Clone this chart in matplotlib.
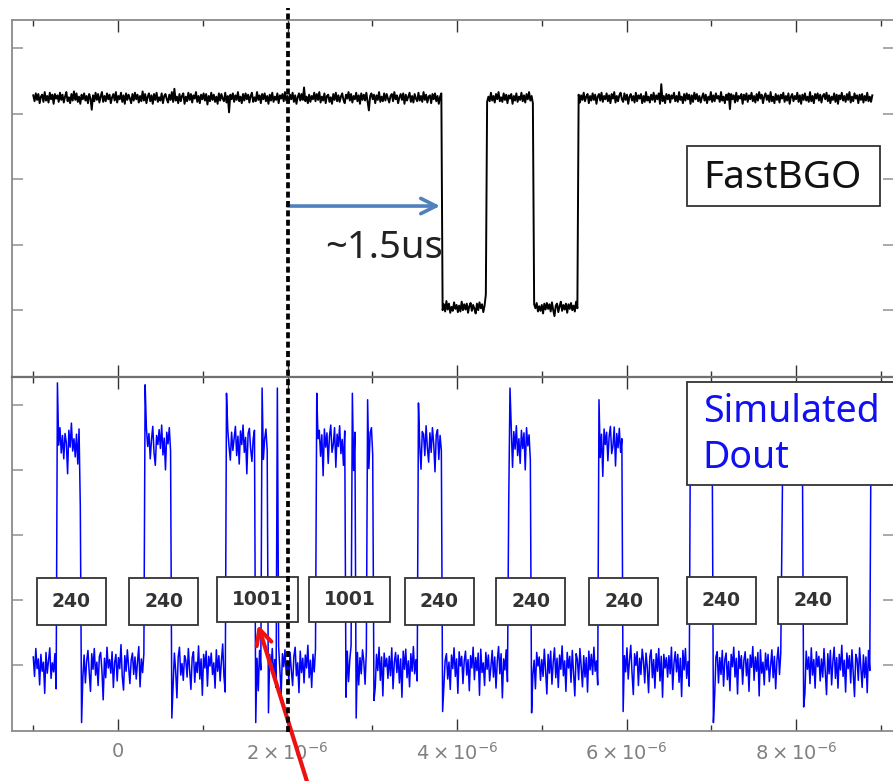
import numpy as np
import matplotlib
matplotlib.use("Agg")
import matplotlib.pyplot as plt
from matplotlib.patches import Rectangle
from matplotlib.lines import Line2D
from matplotlib import transforms

# ---------------- data ----------------
t0_us = -1.00          # first sample time (microseconds)
dt_us = 0.015          # sample spacing (microseconds)

# FastBGO trace: level changes and levels
bgo_step_us = [3.828, 4.342, 4.898, 5.422]
bgo_levels = [3.24, 0.04, 3.24, 0.04, 3.24]
bgo_noise = [  # hundredths, one per sample
    4, -5, 7, -3, 6, -8, 2, 5, -6, 9, -4, 3, -7, 8, -2, 5, -9, 6, -1, 4,
    -6, 8, -3, 5, -7, 2, 9, -5, 1, -8, 6, -4, 10, -3, 7, -6, 2, -9, 5, -2,
    7, -4, 3, -8, 6, -1, -18, 4, -5, 8, -3, 6, -7, 2, 9, -6, 3, -5, 7, -2,
    5, -8, 1, 6, -4, 9, -7, 3, -2, 8, -6, 4, -9, 7, -3, 5, -1, -8, 6, -4,
    8, -2, 5, -7, 3, -5, 10, -4, 6, -8, 2, 7, -5, 4, -9, 6, -3, 8, -6, 1,
    -4, 7, -8, 3, 6, -2, -7, 5, -3, 9, -6, 14, -4, 2, -8, 6, -5, 3, 7, -9,
    2, -5, 8, -3, 6, -7, 4, -1, 9, -6, 3, -8, 5, -2, 7, -4, 6, -10, 3, -5,
    8, -3, 5, -6, 2, -9, 7, -4, 6, -1, -5, 8, -7, 3, -22, 5, -2, 7, -6, 4,
    -3, 9, -5, 2, -8, 6, -4, 7, -2, 5, -7, 3, 8, -6, 1, -5, 9, -3, 4, -8,
    6, -2, 7, -5, 3, -9, 5, -4, 8, -6, 2, -3, 7, -8, 4, -1, 6, -5, 9, -4,
    3, -7, 5, -2, 8, -6, 4, -9, 1, 7, -4, 6, -3, 16, -5, 2, -8, 5, -6, 3,
    -2, 8, -5, 6, -3, 9, -7, 2, -4, 7, -8, 3, 5, -6, 1, -9, 6, -3, 8, -5,
    4, -6, 2, 7, -3, -8, 5, -1, 9, -4, 6, -7, 3, -2, 8, -5, 4, -9, 7, -3,
    5, -4, 8, -6, -19, 3, 7, -2, 5, -8, 4, -3, 9, -6, 2, -5, 7, -4, 6, -1,
    -7, 3, 6, -5, 9, -2, 4, -8, 1, 6, -3, 7, -9, 5, -4, 2, 8, -6, 3, -7,
    6, -1, -5, 8, -4, 3, -6, 9, -3, 5, -7, 2, 4, -8, 6, -2, 7, -5, 3, -9,
    2, 7, -4, 5, -6, 10, -3, 6, -8, 1, -5, 8, -2, 4, -7, 3, -6, 9, -4, 5,
    -3, 6, -8, 2, 7, -5, 4, -2, -9, 6, -4, 8, -1, 5, -7, 3, 20, -6, 2, -5,
    8, -4, 3, -7, 6, -2, 9, -5, 1, -6, 7, -3, 5, -8, 4, -1, 6, -9, 3, -4,
    7, -6, 2, -3, 8, -5, 4, -7, 6, -2, 9, -4, 3, -8, 5, -1, 7, -6, 2, -5,
    4, -9, 6, -3, 7, -2, 5, -6, 8, -4, -13, 3, 6, -7, 2, 9, -5, 4, -3, 6,
    -8, 5, -2, 7, -4, 3, -6, 9, -1, 5, -7, 4, -3, 8, -5, 2, 6, -8, 3, -4,
    7, -3, 5, -9, 2, 6, -4, 8, -6, 3, -2, 7, -5, 4, -8, 6, -1, 9, -7, 3,
    -5, 4, 8, -2, -6, 7, -3, 5, -9, 2, 6, -4, 3, -7, 8, -5, 4, -1, 6, -8,
    3, -6, 9, -4, 2, -7, 5, -3, 8, -6, 4, -2, 7, -9, 21, -5, 3, -8, 6, -2,
    5, -7, 4, -1, 8, -5, 3, -6, 9, -3, 2, -8, 6, -4, 7, -2, 5, -9, 4, -6,
    8, -2, 6, -5, 3, -7, 1, 7, -4, 5, -8, 2, -3, 9, -6, 4, -5, 7, -1, 3,
    -6, 9, -4, 2, -8, 5, -3, 7, -17, 6, -2, 4, -7, 8, -5, 3, -1, 6, -9, 5,
    -3, 7, -6, 4, -2, 8, -5, 3, -7, 6, -4, 9, -1, 5, -8, 2, 7, -3, 4, -6,
    9, -5, 2, -8, 6, -3, 4, -7, 5, -1, 8, -6, 3, -4, 7, -9, 2, 6, -5, 3,
    -2, 8, -6, 4, -9, 5, -3, 7, -4, 2, -6, 9, -5, 3, -8, 6, -1, 7, -4, 5,
    -7, 3, 6, -2, 8, -5, 4, -8, 2, -3, 7, -6, 5, -9, 4, -2, 8, -4, 3, -6,
    6, -3, 9, -7, 2, -5, 7, -1, 4, -8, 5, -3, 6, -7, 3, -4, 8, -5, 2, -6,
    4,
]

# Simulated Dout trace: high intervals, levels, transient samples, noise
dout_high_start_us = [-0.728, 0.322, 1.282, 1.692, 2.342, 2.752, 2.942,
                      3.542, 4.602, 5.672, 6.752, 7.822, 8.882]
dout_high_end_us = [-0.458, 0.632, 1.622, 1.772, 2.678, 2.808, 3.018,
                    3.828, 4.878, 5.958, 7.018, 8.082, 9.500]
dout_high = 3.43
dout_low = 0.0
dout_spike_us = [-0.715, -0.445, -0.43, 0.32, 0.64, 1.28, 1.63, 1.70, 1.78,
                 1.88, 2.345, 2.69, 2.765, 2.81, 2.945, 3.02, 3.545, 3.83,
                 4.61, 4.625, 4.88, 5.675, 5.96, 6.755, 7.02, 7.835, 7.85,
                 8.09]
dout_spike_val = [4.34, 2.42, -0.89, 4.31, -0.82, 4.18, -0.89, 4.26, -0.74,
                  4.26, 4.18, -0.50, 4.18, -0.82, 4.08, -0.55, 4.03, -0.72,
                  2.50, 4.26, -0.74, 4.08, -0.72, 4.10, -0.89, 2.20, 4.10,
                  -0.65]
dout_noise = [  # hundredths, one per sample
    12, -18, 25, -6, 9, -31, 16, -10, 4, -44, 19, -13, 7, 26, -21, 3, -11, 17, -37, 8,
    -5, 22, -17, 10, -26, 13, -1, -49, 18, -8, 29, -14, 5, -23, 12, -34, 20, -4, 9, -19,
    15, -28, 6, 22, -11, -41, 17, -7, 25, -16, 4, -32, 13, 19, -9, -54, 10, -20, 27, -5,
    8, -13, 20, -35, 3, 16, -25, 11, -6, 31, -18, -39, 14, -10, 23, -3, -29, 7, 18, -15,
    12, -22, 5, 28, -34, 9, -12, 17, -46, 21, -7, 13, -26, 4, 24, -17, -36, 10, -4, 19,
    -10, 26, -20, 6, -43, 15, -3, 22, -14, 8, -31, 18, -9, -51, 12, 27, -16, 2, -24, 14,
    7, -19, 25, -8, -38, 11, 20, -27, 4, -12, 29, -22, 9, -47, 16, -5, 21, -33, 13, -2,
    18, -15, 3, -36, 23, -10, 14, -25, 6, 32, -18, -42, 10, 19, -7, -28, 15, -13, 5, 24,
    -21, 9, -34, 17, -4, 26, -16, 7, -49, 13, 21, -11, -30, 5, 18, -23, 10, -40, 22, -8,
    14, -27, 4, 20, -13, -37, 16, -6, 25, -19, 8, -35, 12, 28, -10, -45, 17, -3, 23, -15,
    6, -24, 19, -9, -32, 13, 27, -17, 3, -43, 21, -12, 10, -28, 15, -5, 30, -20, 7, -35,
    16, -11, 24, -29, 5, 18, -22, 11, -52, 20, -8, 14, -33, 9, 26, -16, -4, 22, -39, 12,
    -7, 25, -18, 4, -36, 17, -13, 21, -26, 8, 29, -10, -44, 15, -2, 19, -31, 11, -14, 23,
    5, -30, 20, -6, -41, 14, 22, -19, 7, -35, 16, -9, 27, -24, 12, -48, 18, -3, 10, -21,
    13, -17, 26, -37, 4, 19, -12, 15, -28, 9, -50, 21, -7, 24, -20, 6, -34, 17, -10, 28,
    -14, 8, -25, 20, -5, -42, 16, 12, -21, 25, -9, -31, 14, -16, 22, -3, -46, 11, 19, -27,
    10, -13, 23, -34, 7, 17, -22, 4, -38, 15, -6, 26, -18, 9, -44, 20, -2, 13, -29, 6,
    21, -16, 8, -40, 14, -5, 27, -23, 11, -9, 18, -47, 24, -12, 3, -32, 19, -7, 15, -25,
    -3, 22, -19, 12, -36, 6, 28, -14, 17, -51, 9, -8, 23, -26, 13, -4, 20, -39, 16, -11,
    25, -21, 5, -33, 18, -10, 14, -43, 22, -6, 11, -28, 27, -15, 7, -37, 19, -2, 12, -24,
    8, -18, 24, -9, -45, 16, -13, 21, -30, 4, 26, -20, 10, -35, 15, -7, 29, -17, 6, -41,
    19, -5, 13, -27, 22, -12, -48, 17, 8, -23, 25, -3, -34, 14, -19, 11, -42, 21, -8, 16,
    -15, 27, -10, 6, -31, 18, -24, 12, -53, 20, -4, 15, -29, 9, 24, -18, -6, 23, -37, 13,
    -9, 21, -16, 5, -39, 14, -11, 26, -22, 7, 30, -13, -46, 17, -1, 20, -32, 10, -15, 24,
    6, -28, 18, -4, -43, 12, 23, -20, 8, -36, 17, -10, 25, -25, 13, -50, 16, -5, 11, -19,
    14, -14, 27, -38, 3, 20, -11, 16, -27, 10, -49, 22, -8, 25, -21, 5, -33, 18, -12, 26,
    -13, 9, -26, 21, -6, -44, 17, 13, -22, 24, -7, -32, 15, -17, 23, -4, -47, 12, 20, -28,
    11, -15, 22, -33, 8, 18, -23, 5, -40, 16, -3, 27, -19, 10, -45, 21, -6, 14, -30, 7,
    20, -17, 9, -41, 15, -4, 28, -24, 12, -10, 19, -48, 23, -13, 4, -31, 18, -8, 16, -26,
    -2, 23, -20, 13, -37, 7, 27, -15, 18, -52, 10, -9, 24, -27, 14, -5, 21, -38, 17, -12,
    24, -22, 6, -34, 19, -11, 15, -44, 21, -7, 12, -29, 26, -16, 8, -36, 20, -3, 13, -25,
    9, -19, 25, -10, -46, 17, -14, 22, -31, 5, 27, -21, 11, -36, 16, -8, 30, -18, 7, -42,
    18, -6, 14, -28, 23, -13, -49, 16, 9, -24, 26, -4, -35, 15, -20, 12, -43, 22, -9, 17,
    -11,
]

# axis ticks and labels
xmajor_us = [0, 2, 4, 6, 8]
xmajor_labels = ["0", r"$2\times10^{-6}$", r"$4\times10^{-6}$",
                 r"$6\times10^{-6}$", r"$8\times10^{-6}$"]
xminor_us = [-1, 1, 3, 5, 7, 9]
ytick_vals = [0, 1, 2, 3, 4]

# word-count annotations on the Dout panel
count_labels = ["240", "240", "1001", "1001", "240", "240", "240", "240", "240"]
count_center_us = [-0.55, 0.54, 1.65, 2.73, 3.79, 4.87, 5.97, 7.12, 8.20]
count_center_y = [0.97, 0.97, 1.00, 1.00, 0.97, 0.97, 0.97, 0.985, 0.985]

trigger_us = 2.0
delay_end_us = 3.80

# ---------------- build series ----------------
t_bgo = t0_us + dt_us * np.arange(len(bgo_noise))
y_bgo = (np.asarray(bgo_levels)[np.searchsorted(bgo_step_us, t_bgo, side="right")]
         + np.asarray(bgo_noise) / 100.0)

t_dout = t0_us + dt_us * np.arange(len(dout_noise))
is_high = np.zeros(t_dout.shape, dtype=bool)
for s, e in zip(dout_high_start_us, dout_high_end_us):
    is_high |= (t_dout >= s) & (t_dout < e)
y_dout = np.where(is_high, dout_high, dout_low) + np.asarray(dout_noise) / 100.0
idx = np.rint((np.asarray(dout_spike_us) - t0_us) / dt_us).astype(int)
idx = np.clip(idx, 0, len(y_dout) - 1)
y_dout[idx] = dout_spike_val

# ---------------- figure ----------------
W, H = 893, 781
fig = plt.figure(figsize=(W / 100, H / 100), dpi=100)
fig.patch.set_facecolor("white")

L, R = 12, 894
ax_top = fig.add_axes([L / W, 1 - 377 / H, (R - L) / W, (377 - 20) / H])
ax_bot = fig.add_axes([L / W, 1 - 731 / H, (R - L) / W, (731 - 377) / H])

XLIM = (-1.251, 9.156)
YLIM = (-1.02, 4.43)

for ax in (ax_top, ax_bot):
    ax.set_xlim(*XLIM)
    ax.set_ylim(*YLIM)
    ax.set_xticks(xmajor_us)
    ax.set_xticks(xminor_us, minor=True)
    ax.set_yticks(ytick_vals)
    ax.set_yticklabels([])
    ax.tick_params(axis="x", which="major", direction="in", length=8.5,
                   width=1.0, color="#333333", top=True, bottom=True)
    ax.tick_params(axis="x", which="minor", direction="in", length=4.5,
                   width=1.0, color="#333333", top=True, bottom=True)
    ax.tick_params(axis="y", which="major", direction="in", length=8,
                   width=1.2, color="#999999", left=True, right=True)
    for sp in ax.spines.values():
        sp.set_color("#8a8a8a")
        sp.set_linewidth(1.3)

ax_top.set_xticklabels([])
ax_top.spines["bottom"].set_linewidth(2.2)
ax_top.spines["bottom"].set_color("#707070")
ax_bot.spines["top"].set_linewidth(1.6)
ax_bot.spines["top"].set_color("#707070")
ax_bot.set_xticklabels(xmajor_labels)
ax_bot.tick_params(axis="x", which="major", labelsize=14, labelcolor="#808080", pad=8)

# traces
ax_top.plot(t_bgo, y_bgo, color="black", lw=1.4, zorder=2)
ax_bot.plot(t_dout, y_dout, color="#0000ff", lw=1.1, zorder=2)

# dashed trigger line across both panels
trans = transforms.blended_transform_factory(ax_bot.transData, fig.transFigure)
fig.add_artist(Line2D([trigger_us, trigger_us], [1 - 732 / H, 1 - 8 / H],
                      transform=trans, color="black", lw=2.7,
                      linestyle=(0, (1.6, 0.9)), zorder=10))

# delay arrow and label
ax_top.annotate("", xy=(delay_end_us, 1.59), xytext=(trigger_us, 1.59),
                arrowprops=dict(arrowstyle="->,head_length=1.1,head_width=0.55",
                                color="#4f81bd", lw=2.6, shrinkA=0, shrinkB=0,
                                mutation_scale=10))
ax_top.text(2.44, 0.79, "~1.5us", fontsize=27.5, family=["Noto Sans", "DejaVu Sans"],
            color="#222222", ha="left", va="baseline")

# FastBGO label box
ax_top.add_patch(Rectangle((6.714, 1.588), 2.277, 0.916, facecolor="white",
                           edgecolor="#333333", lw=1.3, zorder=5))
ax_top.text(6.90, 1.86, "FastBGO", fontsize=28, family=["Noto Sans", "DejaVu Sans"],
            color="#111111", ha="left", va="baseline", zorder=6)

# Simulated Dout label box
ax_bot.add_patch(Rectangle((6.714, 2.769), 2.70, 1.585, facecolor="white",
                           edgecolor="#333333", lw=1.3, zorder=5, clip_on=False))
ax_bot.text(6.90, 3.74, "Simulated", fontsize=27, family=["Noto Sans", "DejaVu Sans"],
            color="#1010f0", ha="left", va="baseline", zorder=6)
ax_bot.text(6.90, 3.03, "Dout", fontsize=27, family=["Noto Sans", "DejaVu Sans"],
            color="#1010f0", ha="left", va="baseline", zorder=6)

# word-count boxes
for lab, cx, cy in zip(count_labels, count_center_us, count_center_y):
    if len(lab) > 3:
        bw, bh = 0.956, 0.692
    else:
        bw, bh = 0.814, 0.723
    ax_bot.add_patch(Rectangle((cx - bw / 2, cy - bh / 2), bw, bh,
                               facecolor="white", edgecolor="#333333",
                               lw=1.3, zorder=5))
    ax_bot.text(cx, cy, lab, fontsize=13.5, fontweight="bold",
                family="DejaVu Sans", color="#333333",
                ha="center", va="center", zorder=6)

# red pointer arrow
ax_bot.annotate("", xy=(1.652, 0.615), xytext=(2.266, -1.95),
                arrowprops=dict(arrowstyle="->,head_length=1.1,head_width=0.55",
                                color="#ee1111", lw=3.0, shrinkA=0, shrinkB=0,
                                mutation_scale=10),
                annotation_clip=False, zorder=11)

fig.savefig("out.png", dpi=100)
